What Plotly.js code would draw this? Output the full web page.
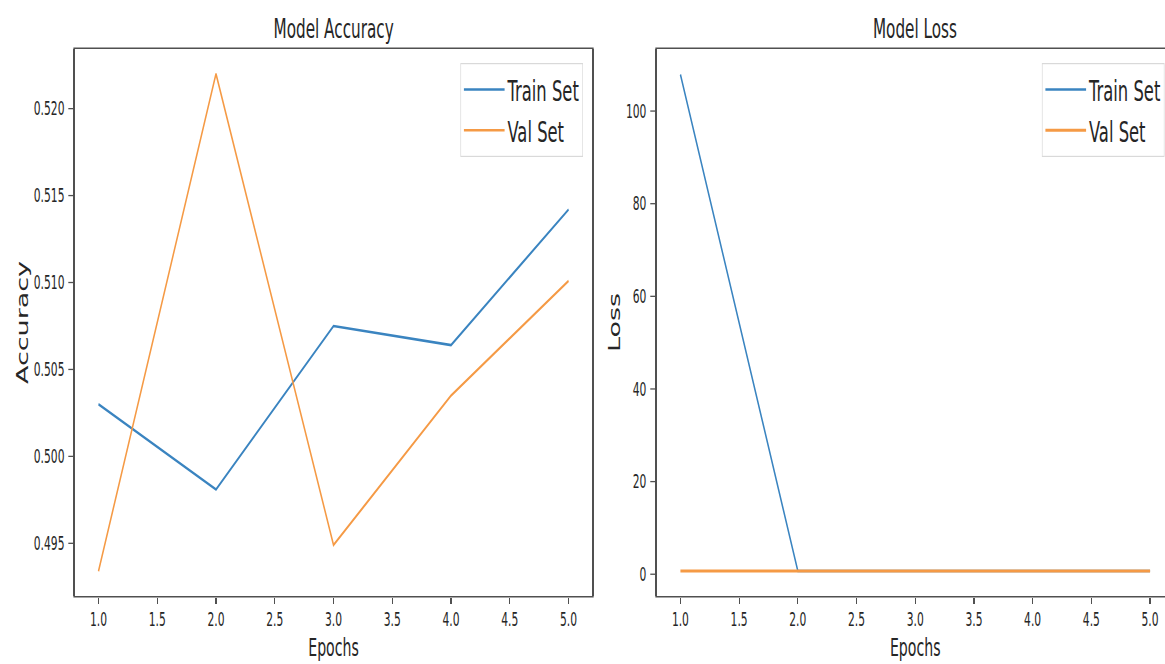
<!DOCTYPE html>
<html>
<head>
<meta charset="utf-8">
<script src="https://cdn.plot.ly/plotly-3.0.1.min.js"></script>
<style>
  html, body { margin: 0; padding: 0; width: 1165px; height: 664px; overflow: hidden; background: #fff; }
  #chart { width: 2080px; height: 664px; transform: scaleX(0.565); transform-origin: 0 0; }
</style>
</head>
<body>
<div id="chart"></div>
<script>
// Data
const epochs = [1, 2, 3, 4, 5];
const trainAccuracy = [0.5030, 0.4981, 0.5075, 0.5064, 0.5142];
const valAccuracy   = [0.4934, 0.5220, 0.4949, 0.5035, 0.5101];
const trainLoss = [107.9, 0.6935, 0.6932, 0.6931, 0.6931];
const valLoss   = [0.6932, 0.6931, 0.6934, 0.6930, 0.6929];
const seriesNames = ['Train Set', 'Val Set'];
const panelTitles = ['Model Accuracy', 'Model Loss'];
const xTickVals = [1.0, 1.5, 2.0, 2.5, 3.0, 3.5, 4.0, 4.5, 5.0];
const xTickText = ['1.0', '1.5', '2.0', '2.5', '3.0', '3.5', '4.0', '4.5', '5.0'];
const accTickVals = [0.495, 0.500, 0.505, 0.510, 0.515, 0.520];
const accTickText = ['0.495', '0.500', '0.505', '0.510', '0.515', '0.520'];
const lossTickVals = [0, 20, 40, 60, 80, 100];
const lossTickText = ['0', '20', '40', '60', '80', '100'];

const BLUE = '#3a84c0';
const ORANGE = '#f59a45';
const FONT = 'DejaVu Sans, sans-serif';
const TXT = '#262626';
const FRAME = '#505050';

const traces = [
  { x: epochs, y: trainAccuracy, name: seriesNames[0], mode: 'lines', line: { color: BLUE, width: 2.6 }, xaxis: 'x', yaxis: 'y', legend: 'legend' },
  { x: epochs, y: valAccuracy, name: seriesNames[1], mode: 'lines', line: { color: ORANGE, width: 2.6 }, xaxis: 'x', yaxis: 'y', legend: 'legend' },
  { x: epochs, y: trainLoss, name: seriesNames[0], mode: 'lines', line: { color: BLUE, width: 2.6 }, xaxis: 'x2', yaxis: 'y2', legend: 'legend2' },
  { x: epochs, y: valLoss, name: seriesNames[1], mode: 'lines', line: { color: ORANGE, width: 3.2 }, xaxis: 'x2', yaxis: 'y2', legend: 'legend2' }
];

function xAxis(domain, anchor) {
  return {
    domain: domain, anchor: anchor, range: [0.8, 5.2],
    tickmode: 'array', tickvals: xTickVals, ticktext: xTickText,
    ticks: 'outside', ticklen: 6, tickwidth: 2.2, tickcolor: FRAME,
    showgrid: false, zeroline: false,
    showline: true, mirror: true, linecolor: FRAME, linewidth: 1.6,
    tickfont: { family: FONT, size: 19, color: TXT },
    title: { text: 'Epochs', font: { family: FONT, size: 25, color: TXT }, standoff: 9 },
    automargin: false
  };
}
function yAxis(domain, anchor, range, vals, text, label) {
  return {
    domain: domain, anchor: anchor, range: range,
    tickmode: 'array', tickvals: vals, ticktext: text,
    ticks: 'outside', ticklen: 9, tickwidth: 1.3, tickcolor: FRAME,
    ticklabelstandoff: 3,
    showgrid: false, zeroline: false,
    showline: true, mirror: true, linecolor: FRAME, linewidth: 2.8,
    tickfont: { family: FONT, size: 19, color: TXT },
    title: { text: label, font: { family: FONT, size: 27, color: TXT }, standoff: 2 },
    automargin: false
  };
}

const dom1 = [0.0638, 0.5038];
const dom2 = [0.5590, 0.9986];

const legendStyle = {
  xanchor: 'right', y: 0.9744, yanchor: 'top',
  bgcolor: '#ffffff', bordercolor: '#d9d9d9', borderwidth: 1.2,
  font: { family: FONT, size: 29, color: TXT }, tracegroupgap: 0, itemwidth: 72
};

const layout = {
  width: 2080, height: 664,
  margin: { l: 0, r: 0, t: 49, b: 68, pad: 0 },
  paper_bgcolor: '#ffffff', plot_bgcolor: '#ffffff',
  showlegend: true,
  xaxis: xAxis(dom1, 'y'),
  yaxis: yAxis([0, 1], 'x', [0.49197, 0.52343], accTickVals, accTickText, 'Accuracy'),
  xaxis2: xAxis(dom2, 'y2'),
  yaxis2: yAxis([0, 1], 'x2', [-4.7, 113.4], lossTickVals, lossTickText, 'Loss'),
  legend: Object.assign({ x: 0.4961 }, legendStyle),
  legend2: Object.assign({ x: 0.9909 }, legendStyle),
  annotations: [
    { text: panelTitles[0], xref: 'paper', yref: 'paper', x: (dom1[0] + dom1[1]) / 2, y: 1, xanchor: 'center', yanchor: 'middle', yshift: 21, showarrow: false, font: { family: FONT, size: 27, color: TXT } },
    { text: panelTitles[1], xref: 'paper', yref: 'paper', x: (dom2[0] + dom2[1]) / 2, y: 1, xanchor: 'center', yanchor: 'middle', yshift: 21, showarrow: false, font: { family: FONT, size: 27, color: TXT } }
  ]
};

Plotly.newPlot('chart', traces, layout, { displayModeBar: false, staticPlot: true });
</script>
</body>
</html>
